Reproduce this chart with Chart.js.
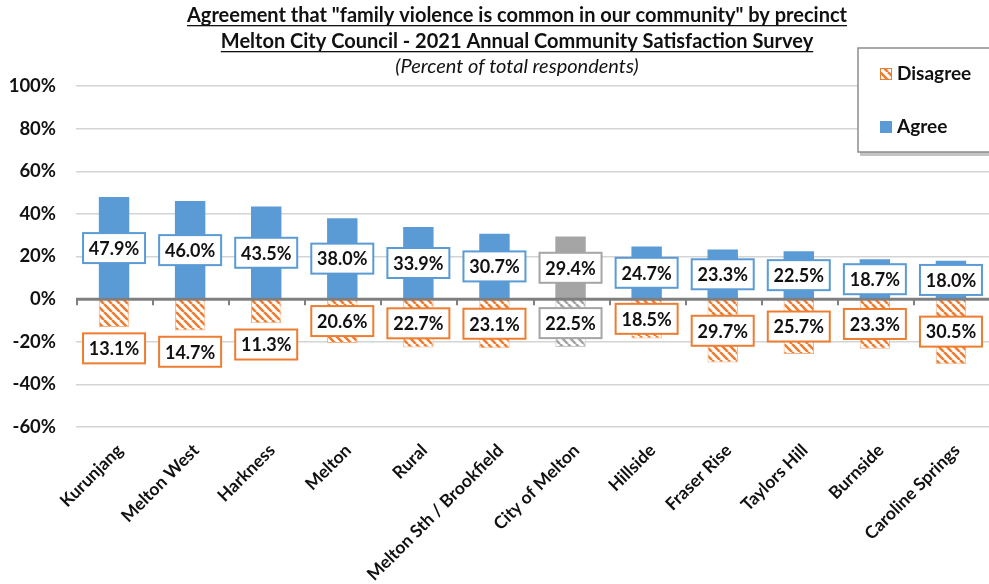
<!DOCTYPE html>
<html>
<head>
<meta charset="utf-8">
<script src="https://cdn.jsdelivr.net/npm/chart.js@4"></script>
<style>
  html, body { margin: 0; padding: 0; background: #fff; overflow: hidden; }
  #wrap { width: 989px; height: 584px; position: relative; }
</style>
</head>
<body>
<div id="wrap"><canvas id="chart"></canvas></div>
<script>
const categories = ['Kurunjang', 'Melton West', 'Harkness', 'Melton', 'Rural', 'Melton Sth / Brookfield',
  'City of Melton', 'Hillside', 'Fraser Rise', 'Taylors Hill', 'Burnside', 'Caroline Springs']
const agreeValues = [47.9, 46.0, 43.5, 38.0, 33.9, 30.7, 29.4, 24.7, 23.3, 22.5, 18.7, 18.0]
const disagreeValues = [13.1, 14.7, 11.3, 20.6, 22.7, 23.1, 22.5, 18.5, 29.7, 25.7, 23.3, 30.5]
const yMin = -60
const yMax = 100
const yStep = 20
const titleLines = [
  'Agreement that "family violence is common in our community" by precinct',
  'Melton City Council - 2021 Annual Community Satisfaction Survey'
]
const subtitle = '(Percent of total respondents)'
const totalCategory = 'City of Melton'

const BLUE = '#5b9bd5'
const ORANGE = '#ed7d31'
const GREY = '#a5a5a5'
const FONT = 'Lato, "Open Sans", sans-serif'

// diagonal hatch, white background
function hatch(color) {
  const c = document.createElement('canvas')
  c.width = 8; c.height = 8
  const g = c.getContext('2d')
  g.fillStyle = '#fff'
  g.fillRect(0, 0, 8, 8)
  g.strokeStyle = color
  g.lineWidth = 2.6
  for (const x of [-8, 0, 8]) {
    g.beginPath()
    g.moveTo(x, 0)
    g.lineTo(x + 8, 8)
    g.stroke()
  }
  return g.createPattern(c, 'repeat')
}

const isTotal = categories.map(c => c === totalCategory)
const agreeColors = isTotal.map(t => t ? GREY : BLUE)
const disagreeFills = isTotal.map(t => hatch(t ? GREY : ORANGE))
const disagreeBorders = isTotal.map(t => t ? '#c8c8c8' : '#f4b183')

// title, zero line, value boxes, legend box
const decorations = {
  id: 'decorations',
  afterDatasetsDraw(chart) {
    const { ctx, scales: { x, y }, chartArea } = chart
    // zero line + little category ticks
    const y0 = y.getPixelForValue(0)
    ctx.save()
    ctx.strokeStyle = '#7f7f7f'
    ctx.lineWidth = 3
    ctx.beginPath()
    ctx.moveTo(chartArea.left, y0)
    ctx.lineTo(chartArea.right, y0)
    ctx.stroke()
    ctx.lineWidth = 2
    const half = (x.getPixelForValue(1) - x.getPixelForValue(0)) / 2
    for (let i = 0; i <= categories.length; i++) {
      const px = Math.round(x.getPixelForValue(i) - half) + 1
      ctx.beginPath()
      ctx.moveTo(px, y0)
      ctx.lineTo(px, y0 + 6)
      ctx.stroke()
    }
    ctx.restore()

    ctx.save()
    ctx.font = 'bold 18px ' + FONT
    ctx.textAlign = 'center'
    ctx.textBaseline = 'middle'
    chart.data.datasets.forEach((ds, di) => {
      const meta = chart.getDatasetMeta(di)
      meta.data.forEach((bar, i) => {
        const v = ds.data[i]
        let pos = v / 2
        if (v < 0 && v > -15) pos = v - 10
        const cy = y.getPixelForValue(pos)
        const w = 62, h = 30
        ctx.fillStyle = '#fff'
        ctx.fillRect(bar.x - w / 2, cy - h / 2, w, h)
        ctx.lineWidth = 2
        ctx.strokeStyle = isTotal[i] ? GREY : (di === 0 ? BLUE : ORANGE)
        ctx.strokeRect(bar.x - w / 2, cy - h / 2, w, h)
        ctx.fillStyle = '#111'
        ctx.fillText(Math.abs(v).toFixed(1) + '%', bar.x, cy + 1)
      })
    })
    ctx.restore()
  },
  afterDraw(chart) {
    const { ctx } = chart
    ctx.save()
    ctx.fillStyle = '#111'
    ctx.textAlign = 'center'
    ctx.textBaseline = 'alphabetic'
    ctx.font = 'bold 20px ' + FONT
    titleLines.forEach((t, i) => {
      const by = 22 + i * 26
      ctx.fillText(t, 517, by)
      const w = ctx.measureText(t).width
      ctx.fillRect(517 - w / 2, by + 3, w, 1.3)
    })
    ctx.font = 'italic 20px ' + FONT
    ctx.fillText(subtitle, 517, 73)

    // legend
    ctx.fillStyle = '#c4c4c4'
    ctx.fillRect(860, 51, 140, 105)
    ctx.fillStyle = '#fff'
    ctx.fillRect(858, 48, 140, 104)
    ctx.strokeStyle = '#8c8c8c'
    ctx.lineWidth = 1.5
    ctx.strokeRect(858, 48, 140, 104)

    ctx.fillStyle = hatch(ORANGE)
    ctx.fillRect(880, 68, 12, 12)
    ctx.strokeStyle = ORANGE
    ctx.lineWidth = 1
    ctx.strokeRect(880.5, 68.5, 11, 11)
    ctx.fillStyle = BLUE
    ctx.fillRect(880, 121, 12, 12)

    ctx.fillStyle = '#111'
    ctx.textAlign = 'left'
    ctx.textBaseline = 'middle'
    ctx.font = 'bold 19px ' + FONT
    ctx.fillText('Disagree', 897, 74)
    ctx.fillText('Agree', 897, 127)
    ctx.restore()
  }
}

new Chart(document.getElementById('chart'), {
  type: 'bar',
  data: {
    labels: categories,
    datasets: [
      {
        label: 'Agree',
        data: agreeValues,
        backgroundColor: agreeColors,
        borderWidth: 0
      },
      {
        label: 'Disagree',
        data: disagreeValues.map(v => -v),
        backgroundColor: disagreeFills,
        borderColor: disagreeBorders,
        borderWidth: 1
      }
    ]
  },
  options: {
    responsive: true,
    maintainAspectRatio: false,
    animation: false,
    layout: { padding: { top: 86, right: 0, left: 0, bottom: 0 } },
    plugins: {
      legend: { display: false },
      title: { display: false },
      tooltip: { enabled: false }
    },
    datasets: {
      bar: { categoryPercentage: 1, barPercentage: 0.4 }
    },
    scales: {
      x: {
        stacked: true,
        grid: { display: false },
        border: { display: false },
        ticks: {
          color: '#111',
          font: { family: FONT, size: 17.5, weight: 'bold' },
          minRotation: 45,
          maxRotation: 45,
          autoSkip: false,
          padding: 5,
          labelOffset: 6
        },
        afterFit(scale) { scale.height = 157 }
      },
      y: {
        stacked: true,
        min: yMin,
        max: yMax,
        grid: {
          color: '#d4d4d4',
          lineWidth: 1.5,
          drawTicks: false
        },
        border: { display: false },
        ticks: {
          stepSize: yStep,
          color: '#111',
          padding: 20,
          font: { family: FONT, size: 18.5, weight: 'bold' },
          callback: v => v + '%'
        },
        afterFit(scale) { scale.width = 76 }
      }
    }
  },
  plugins: [decorations]
})
</script>
</body>
</html>
